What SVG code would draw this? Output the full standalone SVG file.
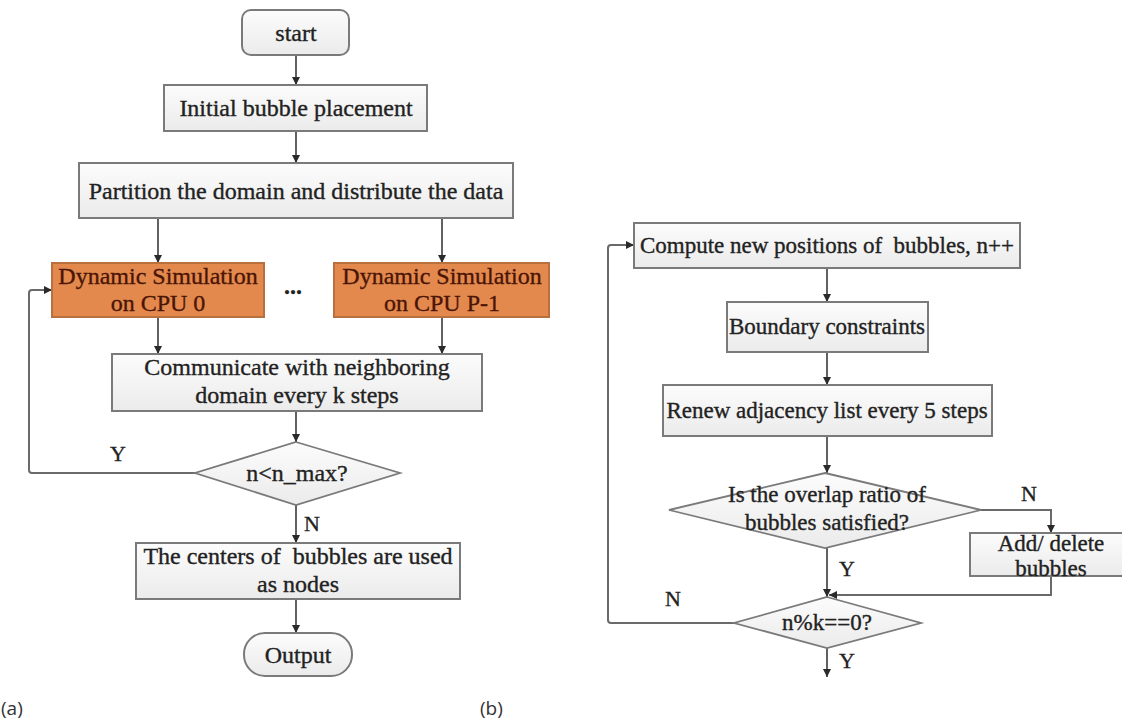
<svg xmlns="http://www.w3.org/2000/svg" width="1122" height="722" viewBox="0 0 1122 722">
  <style>
    .box { fill: url(#boxFill); stroke: #7a7a7a; stroke-width: 2; }
    .cpu { fill: #e4894e; stroke: #b8703e; stroke-width: 2; }
    .dec { fill: url(#boxFill); stroke: #7a7a7a; stroke-width: 1.8; }
    .t { font-family: "Liberation Serif", "Times New Roman", serif; font-size: 24px; fill: #222; stroke: #222; stroke-width: 0.35; text-anchor: middle; }
    .tr { font-size: 23px; }
    .tc { fill: #4a1505; stroke: #4a1505; }
    .lbl { font-family: "Liberation Serif", "Times New Roman", serif; font-size: 22px; fill: #222; stroke: #222; stroke-width: 0.3; }
    .cap { font-family: "Open Sans", "Liberation Sans", sans-serif; font-size: 19px; fill: #333; }
    .edge { fill: none; stroke: #3a3a3a; stroke-width: 1.6; }
    .edge-g { fill: none; stroke: #6a6a6a; stroke-width: 2; }
  </style>
  <defs>
    <linearGradient id="boxFill" x1="0" y1="0" x2="0" y2="1">
      <stop offset="0" stop-color="#fcfcfc"/>
      <stop offset="1" stop-color="#ebebeb"/>
    </linearGradient>
    <marker id="arrow" markerUnits="userSpaceOnUse" markerWidth="9" markerHeight="8" refX="8" refY="4" orient="auto">
      <path d="M0,0 L8,4 L0,8 z" fill="#2a2a2a"/>
    </marker>
  </defs>
  <rect width="1122" height="722" fill="#ffffff"/>

  <!-- connectors -->
  <g id="connectors">
    <!-- flow (a) -->
    <path class="edge" d="M296,55 V85" marker-end="url(#arrow)"/>
    <path class="edge" d="M296,131 V163" marker-end="url(#arrow)"/>
    <path class="edge" d="M158,218 V263" marker-end="url(#arrow)"/>
    <path class="edge" d="M442,218 V263" marker-end="url(#arrow)"/>
    <path class="edge" d="M158,317 V354" marker-end="url(#arrow)"/>
    <path class="edge" d="M442,317 V354" marker-end="url(#arrow)"/>
    <path class="edge" d="M296,411 V442" marker-end="url(#arrow)"/>
    <path class="edge" d="M296,505 V543" marker-end="url(#arrow)"/>
    <path class="edge" d="M296,599 V633" marker-end="url(#arrow)"/>
    <path class="edge-g" d="M195,473 H32 Q29,473 29,470 V293 Q29,290 32,290 H52" marker-end="url(#arrow)"/>
    <!-- flow (b) -->
    <path class="edge" d="M827,268 V302" marker-end="url(#arrow)"/>
    <path class="edge" d="M827,352 V385" marker-end="url(#arrow)"/>
    <path class="edge" d="M827,436 V473" marker-end="url(#arrow)"/>
    <path class="edge" d="M827,548 V597" marker-end="url(#arrow)"/>
    <path class="edge-g" d="M981,510 H1051 V533" marker-end="url(#arrow)"/>
    <path class="edge-g" d="M1051,576 V595 H829" marker-end="url(#arrow)"/>
    <path class="edge-g" d="M734,623 H611 Q608,623 608,620 V248 Q608,245 611,245 H634" marker-end="url(#arrow)"/>
    <path class="edge" d="M827,648 V677" marker-end="url(#arrow)"/>
  </g>

  <!-- (a) parallel flow -->
  <g id="start">
    <rect class="box" x="242" y="10" width="107" height="45" rx="9"/>
    <text class="t" x="296" y="41">start</text>
  </g>
  <g id="initial-placement">
    <rect class="box" x="164" y="85" width="263" height="46"/>
    <text class="t" x="296" y="116">Initial bubble placement</text>
  </g>
  <g id="partition">
    <rect class="box" x="79" y="163" width="434" height="55"/>
    <text class="t" x="296" y="199">Partition the domain and distribute the data</text>
  </g>
  <g id="sim-cpu0">
    <rect class="cpu" x="52" y="263" width="212" height="54"/>
    <text class="t tc" x="158" y="284">Dynamic Simulation</text>
    <text class="t tc" x="158" y="311">on CPU 0</text>
  </g>
  <g id="ellipsis">
    <text class="t" x="293" y="294" font-weight="bold">...</text>
  </g>
  <g id="sim-cpup1">
    <rect class="cpu" x="334" y="263" width="215" height="54"/>
    <text class="t tc" x="442" y="284">Dynamic Simulation</text>
    <text class="t tc" x="442" y="311">on CPU P-1</text>
  </g>
  <g id="communicate">
    <rect class="box" x="112" y="354" width="370" height="57"/>
    <text class="t" x="297" y="375">Communicate with neighboring</text>
    <text class="t" x="297" y="403">domain every k steps</text>
  </g>
  <g id="check-nmax">
    <polygon class="dec" points="296,442 400,473 296,505 195,473"/>
    <text class="t" x="297" y="481">n&lt;n_max?</text>
    <text class="lbl" x="110" y="461">Y</text>
    <text class="lbl" x="304" y="531">N</text>
  </g>
  <g id="centers-as-nodes">
    <rect class="box" x="136" y="543" width="324" height="56"/>
    <text class="t" x="298" y="564" xml:space="preserve">The centers of  bubbles are used</text>
    <text class="t" x="298" y="592">as nodes</text>
  </g>
  <g id="output">
    <rect class="box" x="244" y="633" width="108" height="43" rx="21"/>
    <text class="t" x="298" y="663">Output</text>
  </g>

  <!-- (b) per-CPU loop -->
  <g id="compute-positions">
    <rect class="box" x="634" y="223" width="386" height="45"/>
    <text class="t tr" x="827" y="253" xml:space="preserve">Compute new positions of  bubbles, n++</text>
  </g>
  <g id="boundary">
    <rect class="box" x="727" y="302" width="201" height="50"/>
    <text class="t tr" x="827" y="334">Boundary constraints</text>
  </g>
  <g id="renew-adjacency">
    <rect class="box" x="663" y="385" width="329" height="51"/>
    <text class="t tr" x="827" y="418">Renew adjacency list every 5 steps</text>
  </g>
  <g id="check-overlap">
    <polygon class="dec" points="825,473 981,510 825,548 669,510"/>
    <text class="t tr" x="827" y="502">Is the overlap ratio of</text>
    <text class="t tr" x="827" y="530">bubbles satisfied?</text>
    <text class="lbl" x="1021" y="501">N</text>
    <text class="lbl" x="839" y="576">Y</text>
  </g>
  <g id="add-delete">
    <rect class="box" x="970" y="533" width="165" height="43"/>
    <text class="t tr" x="1051" y="551">Add/ delete</text>
    <text class="t tr" x="1051" y="576">bubbles</text>
  </g>
  <g id="check-k">
    <polygon class="dec" points="827,597 921,623 827,648 734,623"/>
    <text class="t tr" x="827" y="630">n%k==0?</text>
    <text class="lbl" x="665" y="606">N</text>
    <text class="lbl" x="839" y="668">Y</text>
  </g>

  <g id="captions">
    <text class="cap" x="1" y="715">(a)</text>
    <text class="cap" x="480" y="715">(b)</text>
  </g>
</svg>
